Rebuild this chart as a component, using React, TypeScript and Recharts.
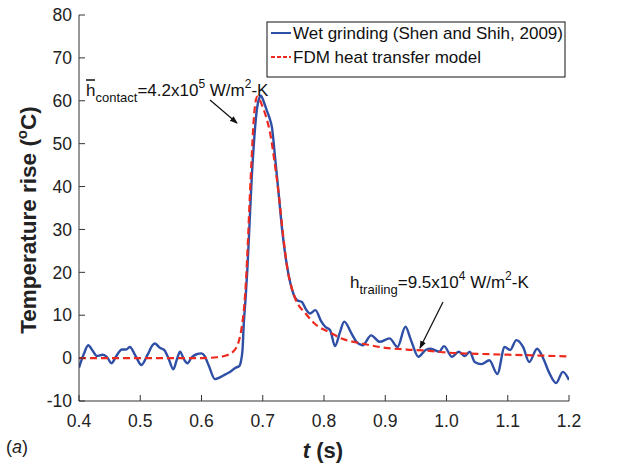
import { LineChart, Line, XAxis, YAxis } from 'recharts'

// measured series (Shen and Shih, 2009), time in s, temperature rise in °C
const wetT = [
  0.4, 0.408, 0.415, 0.422, 0.429, 0.439, 0.446, 0.453, 0.461, 0.47, 0.477, 0.483, 0.492, 0.502, 0.512,
  0.52, 0.524, 0.532, 0.539, 0.546, 0.554, 0.56, 0.565, 0.571, 0.577, 0.584, 0.592, 0.6, 0.605, 0.612,
  0.622, 0.63, 0.639, 0.647, 0.655, 0.662, 0.664, 0.667, 0.669, 0.672, 0.675, 0.679, 0.682, 0.686, 0.69,
  0.694, 0.697, 0.701, 0.706, 0.711, 0.715, 0.72, 0.726, 0.732, 0.739, 0.745, 0.75, 0.756, 0.764, 0.77,
  0.777, 0.786, 0.795, 0.802, 0.81, 0.818, 0.826, 0.833, 0.845, 0.853, 0.863, 0.877, 0.891, 0.907, 0.92,
  0.933, 0.942, 0.954, 0.966, 0.974, 0.988, 0.996, 1.009, 1.02, 1.03, 1.038, 1.046, 1.057, 1.07, 1.083,
  1.095, 1.104, 1.114, 1.125, 1.135, 1.148, 1.158, 1.168, 1.179, 1.19, 1.2,
]
const wetV = [
  -2.2, 1.0, 3.0, 1.8, 0.5, 0.8, 0.2, -1.2, 0.5, 2.0, 2.0, 2.6, 0.6, -1.6, 0.8,
  3.0, 3.4, 2.4, 1.9, 0.0, -2.6, -0.2, 1.5, -0.2, -1.2, 0.2, 0.9, 1.1, 0.5, -1.8,
  -4.9, -4.5, -3.8, -3.2, -2.3, -1.8, -1.0, 2.0, 8, 14, 21, 33, 42, 51, 57.5,
  60.5, 61.2, 60, 58, 56, 53.8, 47, 38.3, 29.5, 22, 17.5, 15, 13.5, 13.1, 11.5,
  10.4, 11.2, 8.7, 7.3, 6.5, 2.8, 6.0, 8.5, 5.7, 3.8, 3.0, 5.3, 3.8, 4.6, 2.6,
  7.3, 4.2, 0.3, 1.9, 2.2, 1.5, 2.8, 0.3, 1.5, 0.5, 1.5, -0.9, -1.4, -0.5, -3.7,
  2.6, 1.9, 4.2, 2.6, -0.9, 2.2, -0.1, -3.5, -5.8, -3.2, -5.1,
]

// FDM heat transfer model
const fdmT = [
  0.4, 0.5, 0.6, 0.61, 0.625, 0.64, 0.65, 0.657, 0.662, 0.666, 0.67, 0.673, 0.676, 0.679, 0.682,
  0.685, 0.688, 0.691, 0.694, 0.7, 0.706, 0.712, 0.719, 0.726, 0.733, 0.74, 0.747, 0.753, 0.77, 0.785,
  0.808, 0.83, 0.862, 0.9, 0.935, 0.972, 1.0, 1.05, 1.1, 1.15, 1.2,
]
const fdmV = [
  0, 0, 0, 0.05, 0.2, 0.6, 1.3, 2.5, 4.5, 7.5, 12.5, 19, 28, 38, 47,
  55, 59.5, 61, 60.5, 58.5, 56, 52.5, 46, 38.3, 29, 21, 16.5, 13.9, 10.4, 8,
  6.1, 4.5, 3.4, 2.4, 2.0, 1.7, 1.3, 1.0, 0.8, 0.6, 0.4,
]

const xTicks = [0.4, 0.5, 0.6, 0.7, 0.8, 0.9, 1.0, 1.1, 1.2]
const yTicks = [-10, 0, 10, 20, 30, 40, 50, 60, 70, 80]

const FONT = '"Liberation Sans", Arial, Helvetica, sans-serif'
const BLUE = '#2f4fa6'
const RED = '#ee2a1e'
const AXIS = '#333'

export default function App() {
  const wetData = wetT.map((t, i) => ({ t, v: wetV[i] }))
  const fdmData = fdmT.map((t, i) => ({ t, v: fdmV[i] }))

  const tickStyle = { fontSize: 17.5, fill: '#222', fontFamily: FONT }

  return (
    <div style={{ position: 'absolute', left: 0, top: 0, width: 621, height: 464, background: '#fff' }}>
      <LineChart width={621} height={464} margin={{ top: 15, right: 52, bottom: 0, left: 0 }}>
        <XAxis
          dataKey="t"
          type="number"
          domain={[0.4, 1.2]}
          ticks={xTicks}
          allowDataOverflow
          height={63}
          tickSize={-6}
          tickMargin={20}
          tick={tickStyle}
          tickFormatter={(v: number) => v.toFixed(1)}
          stroke={AXIS}
        />
        <XAxis
          xAxisId="top"
          orientation="top"
          type="number"
          domain={[0.4, 1.2]}
          ticks={xTicks}
          height={0}
          tickSize={-6}
          tickFormatter={() => ''}
          stroke={AXIS}
        />
        <YAxis
          type="number"
          domain={[-10, 80]}
          ticks={yTicks}
          allowDataOverflow
          width={79}
          tickSize={-6}
          tickMargin={13}
          tick={tickStyle}
          stroke={AXIS}
        />
        <YAxis
          yAxisId="right"
          orientation="right"
          type="number"
          domain={[-10, 80]}
          ticks={yTicks}
          width={0}
          tickSize={-6}
          tickFormatter={() => ''}
          stroke={AXIS}
        />
        <Line
          data={wetData}
          dataKey="v"
          type="monotone"
          stroke={BLUE}
          strokeWidth={2.4}
          dot={false}
          isAnimationActive={false}
        />
        <Line
          data={fdmData}
          dataKey="v"
          type="monotone"
          stroke={RED}
          strokeWidth={2.2}
          strokeDasharray="7 4"
          dot={false}
          isAnimationActive={false}
        />
      </LineChart>

      {/* labels, legend and annotations */}
      <svg
        width={621}
        height={464}
        style={{ position: 'absolute', left: 0, top: 0, pointerEvents: 'none', fontFamily: FONT }}
      >
        <defs>
          <marker id="arrow" markerWidth="8" markerHeight="8" refX="7" refY="4" orient="auto" markerUnits="userSpaceOnUse">
            <path d="M0,1 L8,4 L0,7 z" fill="#111" />
          </marker>
        </defs>

        {/* legend */}
        <rect x={267} y={22} width={298} height={55} fill="#fff" stroke="#111" strokeWidth={1} />
        <line x1={271} y1={33} x2={291} y2={33} stroke={BLUE} strokeWidth={2} />
        <line x1={271} y1={57} x2={291} y2={57} stroke={RED} strokeWidth={2} strokeDasharray="4 2" />
        <text x={293} y={39} fontSize={17} fill="#111">Wet grinding (Shen and Shih, 2009)</text>
        <text x={293} y={63} fontSize={17} fill="#111">FDM heat transfer model</text>

        {/* contact annotation */}
        <line x1={86} y1={80} x2={95} y2={80} stroke="#111" strokeWidth={1.5} />
        <text x={86} y={96} fontSize={17} fill="#111">
          h<tspan dy={6} fontSize={13}>contact</tspan>
          <tspan dy={-6}>=4.2x10</tspan>
          <tspan dy={-8} fontSize={12}>5</tspan>
          <tspan dy={8}> W/m</tspan>
          <tspan dy={-8} fontSize={12}>2</tspan>
          <tspan dy={8}>-K</tspan>
        </text>
        <line x1={210} y1={100} x2={237} y2={123} stroke="#111" strokeWidth={1.2} markerEnd="url(#arrow)" />

        {/* trailing annotation */}
        <text x={350} y={288} fontSize={17} fill="#111">
          h<tspan dy={6} fontSize={13}>trailing</tspan>
          <tspan dy={-6}>=9.5x10</tspan>
          <tspan dy={-8} fontSize={12}>4</tspan>
          <tspan dy={8}> W/m</tspan>
          <tspan dy={-8} fontSize={12}>2</tspan>
          <tspan dy={8}>-K</tspan>
        </text>
        <line x1={443} y1={302} x2={420} y2={348} stroke="#111" strokeWidth={1.2} markerEnd="url(#arrow)" />

        {/* axis titles */}
        <text
          transform="translate(36, 220) rotate(-90)"
          textAnchor="middle"
          fontSize={22.5}
          fontWeight="bold"
          fill="#222"
        >
          Temperature rise (<tspan dy={-9} fontSize={15}>o</tspan>
          <tspan dy={9}>C)</tspan>
        </text>
        <text x={323} y={458} textAnchor="middle" fontSize={22} fontWeight="bold" fill="#222">
          <tspan fontStyle="italic">t</tspan> (s)
        </text>
        <text x={6} y={453} fontSize={18} fill="#222">
          (<tspan fontStyle="italic">a</tspan>)
        </text>
      </svg>
    </div>
  )
}
